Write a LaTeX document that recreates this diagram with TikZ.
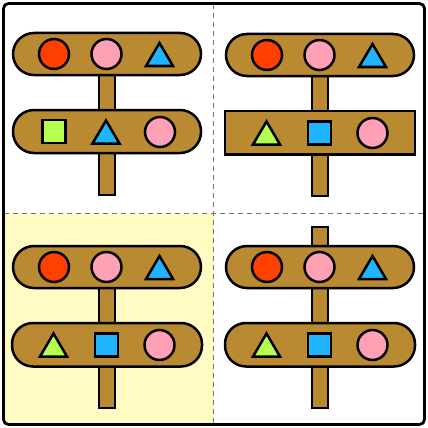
\documentclass[tikz,border=0pt]{standalone}
\definecolor{board}{HTML}{B98A32}
\definecolor{redball}{HTML}{FF4000}
\definecolor{pinkball}{HTML}{FFA0B4}
\definecolor{bluepart}{HTML}{20B4FF}
\definecolor{greenpart}{HTML}{B4FF50}
\definecolor{paleyellow}{HTML}{FFFBC2}
\begin{document}
\begin{tikzpicture}[x=1pt, y=-1pt,
  part/.style={draw=black, line width=2.5pt},
  pill/.style={part, fill=board, rounded corners=21pt},
  stem/.style={part, fill=board},
  divider/.style={draw=black!55, line width=1.2pt, dash pattern=on 5pt off 4pt}]
  \useasboundingbox (0,0) rectangle (428,428);
  % shaded quarter
  \begin{scope}
    \clip[rounded corners=5pt] (3,3) rectangle (425,425);
    \fill[paleyellow] (3,213.5) rectangle (213.5,425);
  \end{scope}
  \draw[divider] (213.5,4) -- (213.5,424);
  \draw[divider] (4,213.5) -- (424,213.5);
  \draw[line width=2.8pt, rounded corners=5pt] (3.5,3.5) rectangle (424.5,424.5);
  % posts and upper boards
  \foreach \ox/\oy/\top in {0/0/60, 213/1/60, 0/213/60, 213/213/14} {
    \begin{scope}[shift={(\ox,\oy)}]
      \draw[stem] (99,\top) rectangle (115,195);
      \draw[pill] (13,33) rectangle (201,75);
      \draw[part, fill=redball] (54,54) circle (15);
      \draw[part, fill=pinkball] (106.5,54) circle (15);
      \draw[part, fill=bluepart] (146,66) -- (159.5,43) -- (173,66) -- cycle;
    \end{scope}
  }
  % lower boards
  \draw[pill] (13,110) rectangle (201,153);
  \draw[part, fill=greenpart] (42.5,120) rectangle (65.5,143);
  \draw[part, fill=bluepart] (92.5,143.5) -- (106,120.5) -- (119.5,143.5) -- cycle;
  \draw[part, fill=pinkball] (160,132) circle (15);
  \foreach \ox/\oy/\rad in {213/1/0pt, 0/213/21pt, 213/213/21pt} {
    \begin{scope}[shift={(\ox,\oy)}]
      \draw[part, fill=board, rounded corners=\rad] (12,110) rectangle (202,153.5);
      \draw[part, fill=greenpart] (40,143.5) -- (53.5,120.5) -- (67,143.5) -- cycle;
      \draw[part, fill=bluepart] (95,120.5) rectangle (118,143.5);
      \draw[part, fill=pinkball] (159.5,132) circle (15);
    \end{scope}
  }
\end{tikzpicture}
\end{document}
